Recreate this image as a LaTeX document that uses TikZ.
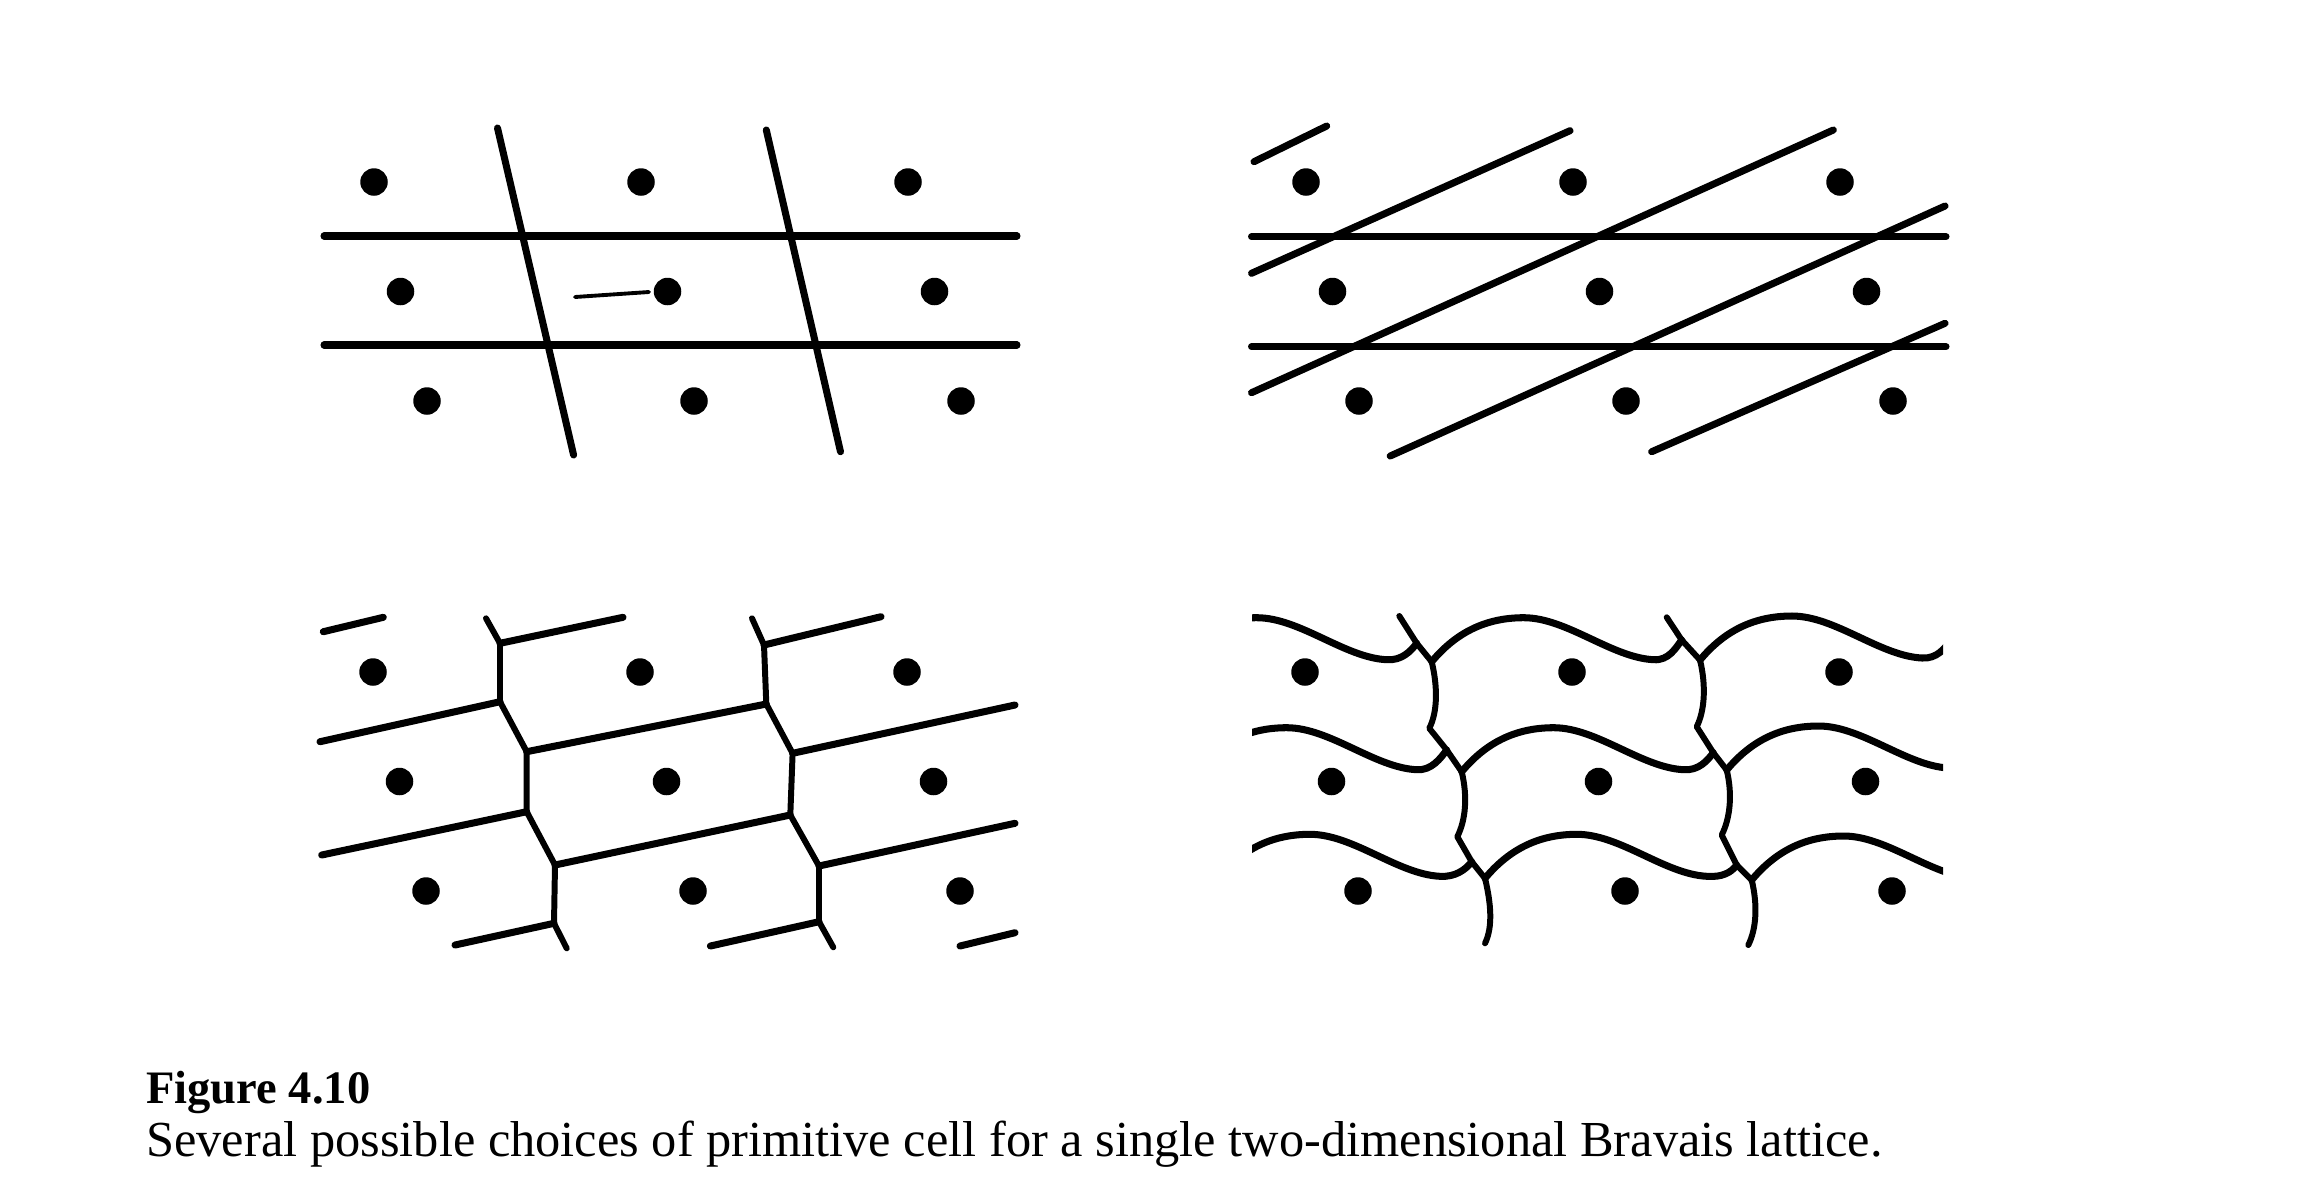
\documentclass[tikz,border=0pt]{standalone}
\usepackage{graphicx}
\usepackage{fontspec}
\setmainfont{Liberation Serif}
\newcommand\cellwave[4]{%
  \draw[cellline] (#1,#2) .. controls ({#1+25},{#2-30}) and ({#1+55},{#2-44}) .. ({#1+92},{#2-44})
    .. controls ({#1+135},{#2-44}) and ({#1+180},{#2-4}) .. ({#1+222},{#2-2})
    .. controls ({#1+237},{#2-1}) and ({#3-6},{#4+8}) .. (#3,#4);}
\begin{document}
\begin{tikzpicture}[x=0.2mm,y=-0.2mm,
  dot/.style={circle,fill=black,draw=none,inner sep=0pt,minimum size=5.5mm},
  cellline/.style={line width=4pt,line cap=round,line join=round},
  colline/.style={line width=3.4pt,line cap=round,line join=round},
  thinmark/.style={line width=2.2pt,line cap=round}]
\useasboundingbox (0,0) rectangle (2315,1199);

% ---------- lattice points (four panels) ----------
\foreach \i in {0,1,2}{
  \foreach \j in {0,1,2}{
    \node[dot] (A\i\j) at ({374+267*\i+26.5*\j},{182+109.5*\j}) {};
    \node[dot] (B\i\j) at ({1306+267*\i+26.5*\j},{182+109.5*\j}) {};
    \node[dot] (C\i\j) at ({373+267*\i+26.5*\j},{672+109.5*\j}) {};
    \node[dot] (D\i\j) at ({1305+267*\i+26.5*\j},{672+109.5*\j}) {};
  }}

% ---------- panel 1: parallelograms along a and b ----------
\draw[cellline] (324,236) -- (1017,236);
\draw[cellline] (324,345) -- (1017,345);
\draw[cellline] (497.5,128) -- (573.6,455);
\draw[cellline] (766.3,130) -- (840.5,451.7);
\draw[thinmark] (575,297) -- (649,292);

% ---------- panel 2: parallelograms along a and a-b ----------
\draw[cellline] (1251.5,236.7) -- (1946,236.7);
\draw[cellline] (1251.5,346.7) -- (1946,346.7);
\draw[cellline] (1254,161.7) -- (1326.7,126);
\draw[cellline] (1251.5,273.3) -- (1570,130.7);
\draw[cellline] (1251.5,392.7) -- (1833.3,130);
\draw[cellline] (1390.2,456) -- (1945,206);
\draw[cellline] (1651.7,451.7) -- (1945,323.3);

% ---------- panel 3: hexagonal cells ----------
\draw[colline] (486,618.3) -- (500,643.3) -- (500,701.7) -- (526.7,751.7) -- (526.7,811.7)
  -- (555,865) -- (554,923.3) -- (566.7,948.3);
\draw[colline] (752,618.3) -- (764,645) -- (766.3,704) -- (792.6,753.3) -- (790.3,815)
  -- (819,866) -- (819,921.7) -- (833.3,947.3);
\draw[cellline] (323.3,631.7) -- (383.3,617.3);
\draw[cellline] (500,643.3) -- (623,617.3);
\draw[cellline] (764,645) -- (881,616.7);
\draw[cellline] (320,741.7) -- (500,701.7);
\draw[cellline] (526.7,751.7) -- (766.3,704);
\draw[cellline] (792.6,753.3) -- (1015,705);
\draw[cellline] (321.7,855) -- (526.7,811.7);
\draw[cellline] (555,865) -- (790.3,815);
\draw[cellline] (819,866) -- (1015,823.3);
\draw[cellline] (455,945) -- (554,923.3);
\draw[cellline] (710.4,946) -- (819,921.7);
\draw[cellline] (960,946) -- (1015,932.7);

% ---------- panel 4: curved cells ----------
\begin{scope}
  \clip (1252,600) rectangle (1943,960);
  \cellwave{1164.7}{661.7}{1416.7}{643.3}
  \cellwave{1194.7}{771.7}{1446.7}{750}
  \cellwave{1218}{878.3}{1471.7}{861.7}
  \cellwave{1431.7}{661.7}{1681.7}{640}
  \cellwave{1461.7}{771.7}{1713.3}{752.7}
  \cellwave{1485}{878.3}{1736.7}{865}
  \cellwave{1700}{660}{1951}{640}
  \cellwave{1726.7}{770}{1977.7}{750}
  \cellwave{1751.7}{880}{2002.7}{860}
\end{scope}
\draw[colline] (1399.3,616) -- (1416.7,643.3) -- (1431.7,661.7)
  .. controls (1437.7,686.7) and (1437.7,711.7) .. (1429.3,728.3) -- (1446.7,750) -- (1461.7,771.7)
  .. controls (1467.7,796.7) and (1465.7,820) .. (1457.3,836.7) -- (1471.7,861.7) -- (1485,878.3)
  .. controls (1491,903.3) and (1493,927) .. (1485,943.3);
\draw[colline] (1666.7,617.3) -- (1681.7,640) -- (1700,660)
  .. controls (1706,685) and (1705,710) .. (1696.7,726.7) -- (1713.3,752.7) -- (1726.7,770)
  .. controls (1732.7,795) and (1730,818.5) .. (1721.7,835) -- (1736.7,865) -- (1751.7,880)
  .. controls (1757.7,905) and (1756.5,928.5) .. (1748.3,945);

% ---------- caption ----------
\node[anchor=base west,inner sep=0pt] (figlabel) at (146,1103.3)
  {\resizebox{44.8mm}{!}{\bfseries Figure 4.10}};
\node[anchor=base west,inner sep=0pt] (figcaption) at (146,1156.7)
  {\resizebox{347.2mm}{!}{Several possible choices of primitive cell for a single two-dimensional Bravais lattice.}};
\end{tikzpicture}
\end{document}
